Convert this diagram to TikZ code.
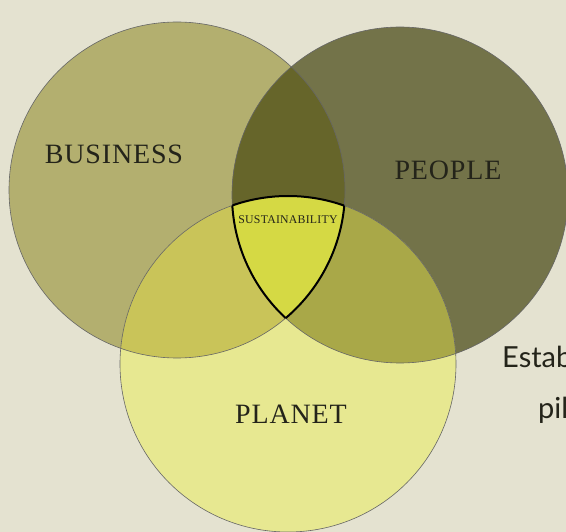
\documentclass[tikz,border=0pt]{standalone}
\usepackage{fontspec}
\newfontfamily\sidefont{Lato}
\newfontfamily\capsfont[LetterSpace=3]{Liberation Serif}
\newfontfamily\smallcapsfont[LetterSpace=2]{Liberation Serif}
\definecolor{bgcol}{HTML}{E4E2D0}
\definecolor{busfill}{HTML}{B3AF6F}
\definecolor{peofill}{HTML}{737349}
\definecolor{plafill}{HTML}{E7E891}
\definecolor{bpfill}{HTML}{66652A}
\definecolor{blfill}{HTML}{C9C459}
\definecolor{plfill}{HTML}{A9A848}
\definecolor{allfill}{HTML}{D5D944}
\definecolor{inkcol}{HTML}{24241A}

\begin{document}
\begin{tikzpicture}[x=1pt, y=-1pt,
      circle line/.style={draw=black!60, line width=0.6pt},
      core line/.style={draw=black, line width=2pt},
      big label/.style={font=\capsfont\fontsize{28}{28}\selectfont, text=inkcol, inner sep=0pt},
      small label/.style={font=\smallcapsfont\fontsize{11.8}{11.8}\selectfont, text=inkcol, inner sep=0pt},
      side text/.style={font=\sidefont\fontsize{29}{29}\selectfont, text=inkcol, inner sep=0pt}
      ]
      % background
      \fill[bgcol] (0,0) rectangle (566,532);
      \useasboundingbox (0,0) rectangle (566,532);

      % centres
      \def\rad{168pt}
      \coordinate (B) at (177,190);
      \coordinate (P) at (400,195);
      \coordinate (L) at (288,364);

      % circles
      \fill[busfill] (B) circle (\rad);
      \fill[peofill] (P) circle (\rad);
      \fill[plafill] (L) circle (\rad);

      % overlaps
      \begin{scope}
        \clip (P) circle (\rad);
        \fill[plfill] (L) circle (\rad);
      \end{scope}
      \begin{scope}
        \clip (B) circle (\rad);
        \fill[bpfill] (P) circle (\rad);
        \fill[blfill] (L) circle (\rad);
        \clip (P) circle (\rad);
        \fill[allfill] (L) circle (\rad);
      \end{scope}

      % outlines
      \draw[circle line] (B) circle (\rad);
      \draw[circle line] (P) circle (\rad);
      \draw[circle line] (L) circle (\rad);

      % core
      \begin{scope}
        \clip (B) circle (\rad);
        \clip (P) circle (\rad);
        \draw[core line] (L) circle (\rad);
      \end{scope}
      \begin{scope}
        \clip (B) circle (\rad);
        \clip (L) circle (\rad);
        \draw[core line] (P) circle (\rad);
      \end{scope}
      \begin{scope}
        \clip (P) circle (\rad);
        \clip (L) circle (\rad);
        \draw[core line] (B) circle (\rad);
      \end{scope}

      % labels
      \node[big label] (business) at (114,154) {BUSINESS};
      \node[big label] (people) at (448,170) {PEOPLE};
      \node[big label] (planet) at (291,414) {PLANET};
      \node[small label] (sustain) at (288,220) {SUSTAINABILITY};

      \node[side text, anchor=base west] (estab) at (502,368) {Estab};
      \node[side text, anchor=base west] (pil) at (538,418) {pil};
    \end{tikzpicture}
\end{document}
